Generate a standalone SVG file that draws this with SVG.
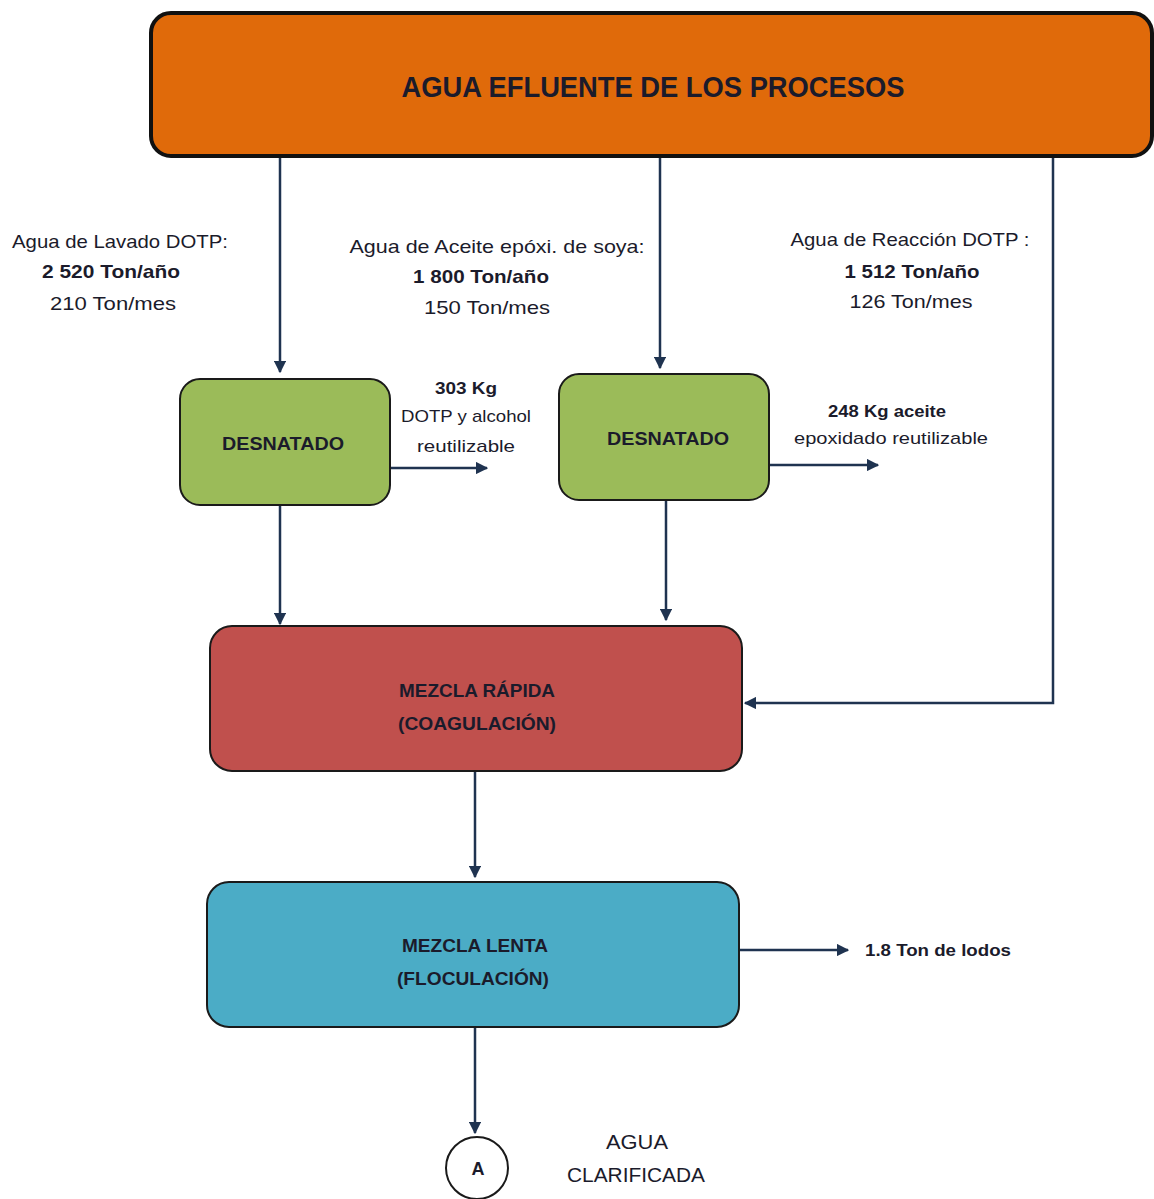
<svg xmlns="http://www.w3.org/2000/svg" width="1154" height="1199" viewBox="0 0 1154 1199">
<style>
.t{font-family:"Liberation Sans",Arial,sans-serif;fill:#1b1b2b;text-anchor:middle}
.b{font-weight:bold}
.c{fill:none;stroke:#1f3350;stroke-width:2.5}
.box{stroke:#1a1a1a;stroke-width:2}
</style>
<defs>
<marker id="ah" viewBox="0 0 10 10" refX="9" refY="5" markerWidth="5" markerHeight="5" orient="auto" markerUnits="strokeWidth">
<path d="M0,0 L10,5 L0,10 z" fill="#1f3350"/>
</marker>
</defs>
<rect width="1154" height="1199" fill="#ffffff"/>

<g id="connectors">
<path class="c" d="M280,157 V372" marker-end="url(#ah)"/>
<path class="c" d="M660,157 V368" marker-end="url(#ah)"/>
<path class="c" d="M1053,157 V703 H745" marker-end="url(#ah)"/>
<path class="c" d="M390,468 H487" marker-end="url(#ah)"/>
<path class="c" d="M769,465 H878" marker-end="url(#ah)"/>
<path class="c" d="M280,505 V624" marker-end="url(#ah)"/>
<path class="c" d="M666,500 V620" marker-end="url(#ah)"/>
<path class="c" d="M475,771 V877" marker-end="url(#ah)"/>
<path class="c" d="M739,950 H848" marker-end="url(#ah)"/>
<path class="c" d="M475,1027 V1133" marker-end="url(#ah)"/>
</g>

<g id="n_agua_efluente">
<rect x="151" y="13" width="1001" height="143" rx="20" fill="#E06A0A" stroke="#111" stroke-width="4"/>
<text class="t b" x="653" y="97" font-size="29" textLength="503" lengthAdjust="spacingAndGlyphs">AGUA EFLUENTE DE LOS PROCESOS</text>
</g>

<g id="lbl_lavado">
<text class="t" x="120" y="248" font-size="19" textLength="216" lengthAdjust="spacingAndGlyphs">Agua de Lavado DOTP:</text>
<text class="t b" x="111" y="278" font-size="19" textLength="138" lengthAdjust="spacingAndGlyphs">2 520 Ton/año</text>
<text class="t" x="113" y="310" font-size="19" textLength="126" lengthAdjust="spacingAndGlyphs">210 Ton/mes</text>
</g>
<g id="lbl_aceite">
<text class="t" x="497" y="253" font-size="19" textLength="295" lengthAdjust="spacingAndGlyphs">Agua de Aceite  epóxi. de soya:</text>
<text class="t b" x="481" y="283" font-size="19" textLength="136" lengthAdjust="spacingAndGlyphs">1 800 Ton/año</text>
<text class="t" x="487" y="314" font-size="19" textLength="126" lengthAdjust="spacingAndGlyphs">150 Ton/mes</text>
</g>
<g id="lbl_reaccion">
<text class="t" x="910" y="246" font-size="19" textLength="239" lengthAdjust="spacingAndGlyphs">Agua de Reacción  DOTP :</text>
<text class="t b" x="912" y="278" font-size="19" textLength="135" lengthAdjust="spacingAndGlyphs">1 512 Ton/año</text>
<text class="t" x="911" y="308" font-size="19" textLength="123" lengthAdjust="spacingAndGlyphs">126 Ton/mes</text>
</g>

<g id="n_desnatado1">
<rect x="180" y="379" width="210" height="126" rx="20" fill="#9BBB59" class="box"/>
<text class="t b" x="283" y="450" font-size="19" textLength="122" lengthAdjust="spacingAndGlyphs">DESNATADO</text>
</g>
<g id="lbl_303">
<text class="t b" x="466" y="394" font-size="17" textLength="62" lengthAdjust="spacingAndGlyphs">303 Kg</text>
<text class="t" x="466" y="422" font-size="17" textLength="130" lengthAdjust="spacingAndGlyphs">DOTP y alcohol</text>
<text class="t" x="466" y="452" font-size="17" textLength="98" lengthAdjust="spacingAndGlyphs">reutilizable</text>
</g>

<g id="n_desnatado2">
<rect x="559" y="374" width="210" height="126" rx="20" fill="#9BBB59" class="box"/>
<text class="t b" x="668" y="445" font-size="19" textLength="122" lengthAdjust="spacingAndGlyphs">DESNATADO</text>
</g>
<g id="lbl_248">
<text class="t b" x="887" y="417" font-size="17" textLength="118" lengthAdjust="spacingAndGlyphs">248 Kg aceite</text>
<text class="t" x="891" y="444" font-size="17" textLength="194" lengthAdjust="spacingAndGlyphs">epoxidado reutilizable</text>
</g>

<g id="n_mezcla_rapida">
<rect x="210" y="626" width="532" height="145" rx="22" fill="#C0504D" class="box"/>
<text class="t b" x="477" y="697" font-size="19" textLength="156" lengthAdjust="spacingAndGlyphs">MEZCLA RÁPIDA</text>
<text class="t b" x="477" y="730" font-size="19" textLength="158" lengthAdjust="spacingAndGlyphs">(COAGULACIÓN)</text>
</g>

<g id="n_mezcla_lenta">
<rect x="207" y="882" width="532" height="145" rx="22" fill="#4BACC6" class="box"/>
<text class="t b" x="475" y="952" font-size="19" textLength="146" lengthAdjust="spacingAndGlyphs">MEZCLA LENTA</text>
<text class="t b" x="473" y="985" font-size="19" textLength="152" lengthAdjust="spacingAndGlyphs">(FLOCULACIÓN)</text>
</g>
<g id="lbl_lodos">
<text class="t b" x="938" y="956" font-size="17" textLength="146" lengthAdjust="spacingAndGlyphs">1.8 Ton de lodos</text>
</g>

<g id="n_A">
<circle cx="477" cy="1168" r="31" fill="#fff" stroke="#1a1a1a" stroke-width="2"/>
<text class="t b" x="478" y="1175" font-size="18">A</text>
</g>
<g id="lbl_clarificada">
<text class="t" x="637" y="1149" font-size="20" textLength="62" lengthAdjust="spacingAndGlyphs">AGUA</text>
<text class="t" x="636" y="1182" font-size="20" textLength="138" lengthAdjust="spacingAndGlyphs">CLARIFICADA</text>
</g>
</svg>
